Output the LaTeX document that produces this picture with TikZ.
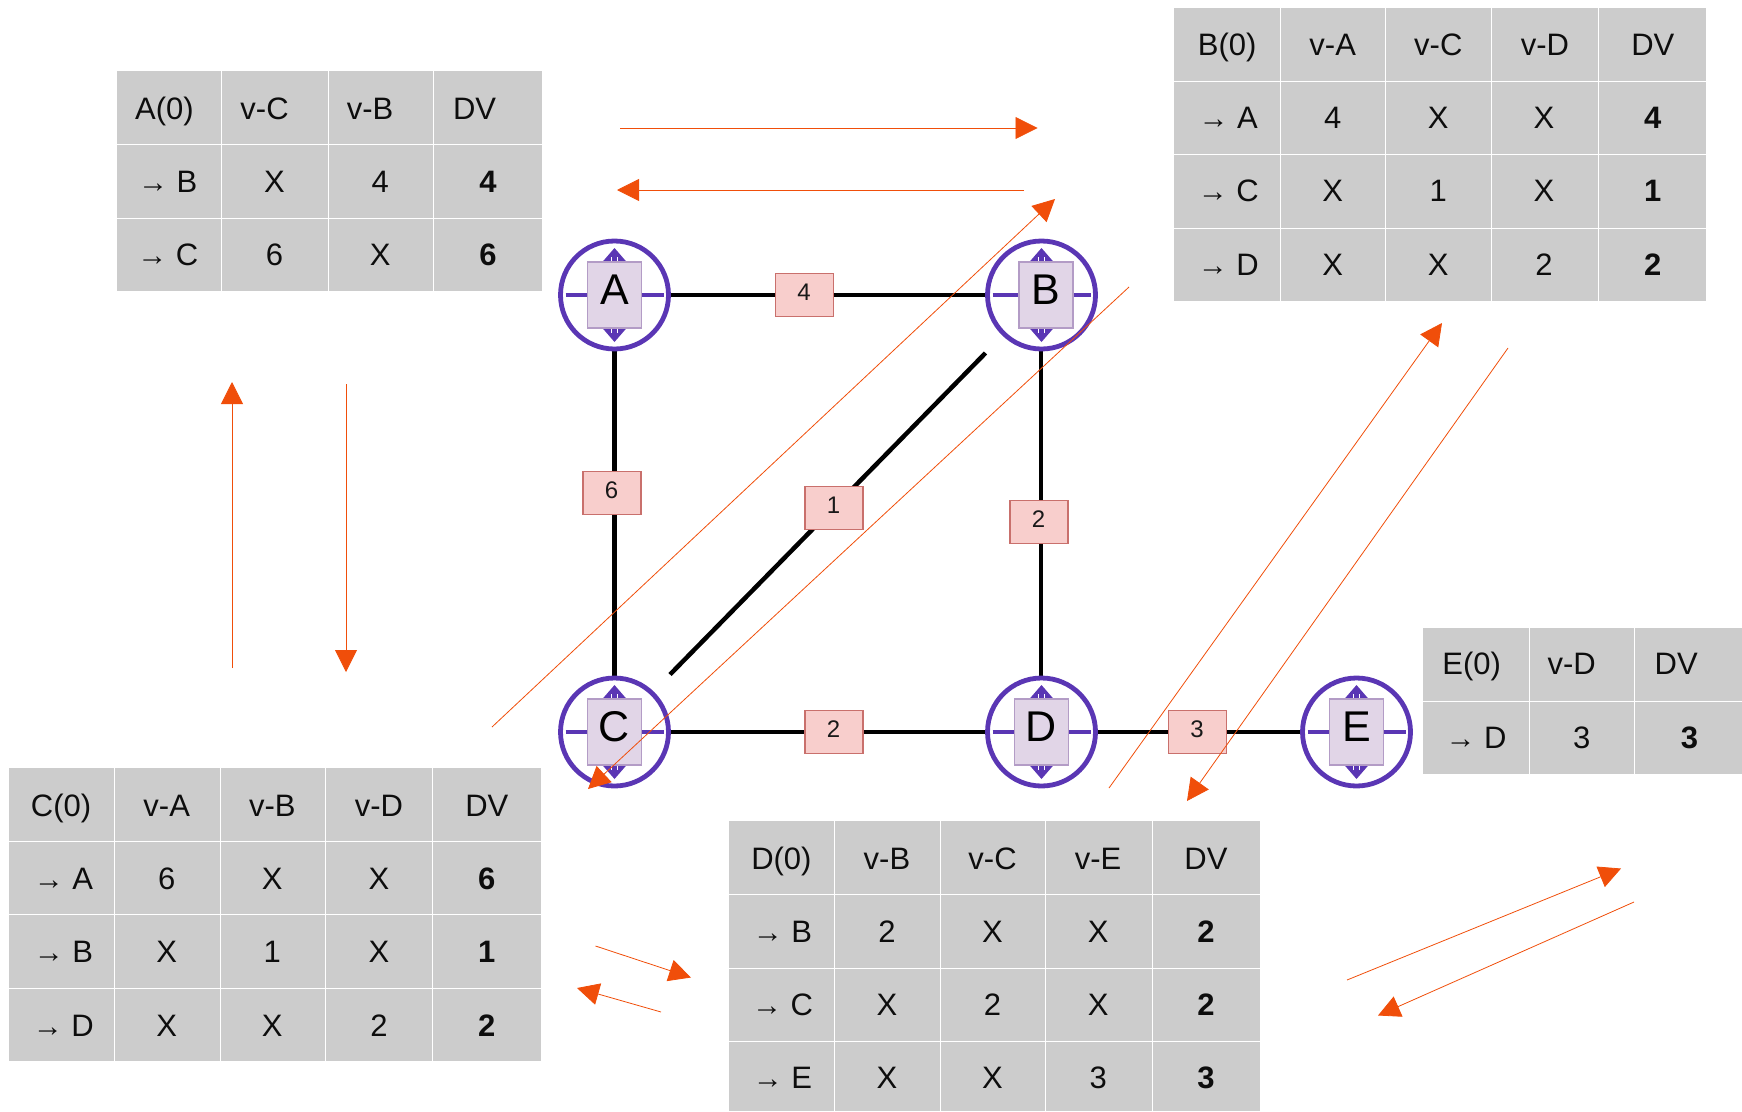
\documentclass[tikz,border=0pt]{standalone}
\usepackage{fontspec}
\setmainfont{Liberation Sans}
\usetikzlibrary{arrows.meta}
\definecolor{gcell}{HTML}{CCCCCC}
\definecolor{purp}{HTML}{5A36B4}
\definecolor{boxfill}{HTML}{E1D5E7}
\definecolor{boxline}{HTML}{B39CC6}
\definecolor{edgefill}{HTML}{F8CECC}
\definecolor{edgeline}{HTML}{C9706C}
\definecolor{org}{HTML}{F04E0A}
\newcommand{\bigtxt}{\fontsize{31}{36}\selectfont}
\newcommand{\rowarrow}{{\fontsize{30}{30}\selectfont →}\hspace{8.5pt}}
\tikzset{
  x=1pt,y=-1pt,
  celltxt/.style={inner sep=0pt,anchor=base,font=\bigtxt,text=black!95},
  boldtxt/.style={celltxt,font=\bigtxt\bfseries},
  gridline/.style={white,line width=1pt},
  netcircle/.style={circle,draw=purp,line width=4.8pt,fill=white,minimum size=108pt,inner sep=0pt},
  netbox/.style={rectangle,draw=boxline,fill=boxfill,line width=1.8pt,minimum width=54pt,minimum height=66pt,inner sep=0pt},
  nettxt/.style={inner sep=0pt,anchor=base,font=\fontsize{43}{48}\selectfont},
  edgebox/.style={rectangle,draw=edgeline,fill=edgefill,line width=1.8pt,minimum width=58pt,minimum height=43pt,inner sep=0pt},
  edgetxt/.style={inner sep=0pt,anchor=base,font=\fontsize{24}{26}\selectfont,text=black!90},
  link/.style={black,line width=4.5pt},
  flow/.style={org,line width=0.8pt,-{Triangle[length=22pt,width=22pt]}},
  slit/.style={white,line width=0.9pt},
}
\newcommand{\tabgrid}[6]{%
  \fill[gcell] (#1,#3) rectangle (#2,#4);
  \foreach \cx in {#5} {\draw[gridline] (\cx,#3) -- (\cx,#4);}
  \foreach \cy in {#6} {\draw[gridline] (#1,\cy) -- (#2,\cy);}
}
\newcommand{\tx}[4]{\node[celltxt] (#1) at ({#2*1.1115},{#3-1}) {#4};}
\newcommand{\tb}[4]{\node[boldtxt] (#1) at ({#2*1.1115},{#3-1}) {#4};}
% name, x, y, label, horizontal offset of the inner box
\newcommand{\netnode}[5]{%
  \node[netcircle] (#1) at (#2,#3) {};
  \fill[purp] (#2,#3) ++(0,-47) -- ++(-13,15) -- ++(26,0) -- cycle;
  \fill[purp] (#2,#3) ++(0,47) -- ++(-13,-15) -- ++(26,0) -- cycle;
  \draw[slit] (#2,#3) ++(-3,-38) -- ++(0,6) ++(6,-6) -- ++(0,6);
  \draw[slit] (#2,#3) ++(-3,38) -- ++(0,-6) ++(6,6) -- ++(0,-6);
  \draw[purp,line width=4.5pt] (#2,#3) ++(-49,0) -- ++(98,0);
  \node[netbox] (#1box) at ({#2+#5},#3) {};
  \node[nettxt] (#1txt) at ({#2+#5},{#3+9}) {#4};
}
\newcommand{\edgenode}[4]{%
  \node[edgebox] (#1) at (#2,#3) {};
  \node[edgetxt] (#1txt) at ({#2-0.5},{#3+5}) {#4};
}
\begin{document}
\begin{tikzpicture}
\useasboundingbox (0,0) rectangle (1742,1111);
\coordinate (A0) at (614.5,295);
\coordinate (B0) at (1041,295);
\coordinate (C0) at (614.5,732);
\coordinate (D0) at (1041,732);
\coordinate (E0) at (1356.5,732);
\coordinate (diagB) at (985.5,353);
\coordinate (diagC) at (670,674.5);
\draw[link] (A0) -- (B0);
\draw[link] (A0) -- (C0);
\draw[link] (B0) -- (D0);
\draw[link] (C0) -- (D0);
\draw[link] (D0) -- (E0);
\draw[link] (diagB) -- (diagC);
\netnode{A}{614.5}{295}{A}{0}
\netnode{B}{1041.5}{295}{B}{4.5}
\netnode{C}{614.5}{732}{C}{0}
\netnode{D}{1041.5}{732}{D}{0}
\netnode{E}{1356.5}{732}{E}{0}
\edgenode{eAB}{804.5}{295}{4}
\edgenode{eAC}{612}{493}{6}
\edgenode{eBC}{834}{508}{1}
\edgenode{eBD}{1039}{522}{2}
\edgenode{eCD}{834}{732}{2}
\edgenode{eDE}{1197.5}{732}{3}
% table A
\tabgrid{117}{542}{71}{291}{221.5,328,433.5}{144.5,218}
\tx{a00}{148}{120}{A(0)}\tx{a01}{238}{120}{v-C}\tx{a02}{333}{120}{v-B}\tx{a03}{427}{120}{DV}
\tx{a10}{151}{193}{\rowarrow B}\tx{a11}{247}{193}{X}\tx{a12}{342}{193}{4}\tb{a13}{439}{193}{4}
\tx{a20}{151}{266}{\rowarrow C}\tx{a21}{247}{266}{6}\tx{a22}{342}{266}{X}\tb{a23}{439}{266}{6}
% table B
\tabgrid{1174}{1706}{8}{301}{1280,1385.5,1491,1598}{81,154.5,228}
\tx{b00}{1104}{56}{B(0)}\tx{b01}{1199}{56}{v-A}\tx{b02}{1294}{56}{v-C}\tx{b03}{1390}{56}{v-D}\tx{b04}{1487}{56}{DV}
\tx{b10}{1105}{129}{\rowarrow A}\tx{b11}{1199}{129}{4}\tx{b12}{1294}{129}{X}\tx{b13}{1389}{129}{X}\tb{b14}{1487}{129}{4}
\tx{b20}{1105}{202}{\rowarrow C}\tx{b21}{1199}{202}{X}\tx{b22}{1294}{202}{1}\tx{b23}{1389}{202}{X}\tb{b24}{1487}{202}{1}
\tx{b30}{1105}{276}{\rowarrow D}\tx{b31}{1199}{276}{X}\tx{b32}{1294}{276}{X}\tx{b33}{1389}{276}{2}\tb{b34}{1487}{276}{2}
% table C
\tabgrid{9}{541}{768}{1061}{114.5,220,325.5,432}{841,914.5,988}
\tx{c00}{55}{817}{C(0)}\tx{c01}{150}{817}{v-A}\tx{c02}{245}{817}{v-B}\tx{c03}{341}{817}{v-D}\tx{c04}{438}{817}{DV}
\tx{c10}{57}{890}{\rowarrow A}\tx{c11}{150}{890}{6}\tx{c12}{245}{890}{X}\tx{c13}{341}{890}{X}\tb{c14}{438}{890}{6}
\tx{c20}{57}{963}{\rowarrow B}\tx{c21}{150}{963}{X}\tx{c22}{245}{963}{1}\tx{c23}{341}{963}{X}\tb{c24}{438}{963}{1}
\tx{c30}{57}{1037}{\rowarrow D}\tx{c31}{150}{1037}{X}\tx{c32}{245}{1037}{X}\tx{c33}{341}{1037}{2}\tb{c34}{438}{1037}{2}
% table D
\tabgrid{729}{1260}{821}{1111}{834,940,1045.5,1152}{894,968,1041}
\tx{d00}{703}{870}{D(0)}\tx{d01}{798}{870}{v-B}\tx{d02}{893}{870}{v-C}\tx{d03}{988}{870}{v-E}\tx{d04}{1085}{870}{DV}
\tx{d10}{704}{943}{\rowarrow B}\tx{d11}{798}{943}{2}\tx{d12}{893}{943}{X}\tx{d13}{988}{943}{X}\tb{d14}{1085}{943}{2}
\tx{d20}{704}{1016}{\rowarrow C}\tx{d21}{798}{1016}{X}\tx{d22}{893}{1016}{2}\tx{d23}{988}{1016}{X}\tb{d24}{1085}{1016}{2}
\tx{d30}{704}{1089}{\rowarrow E}\tx{d31}{798}{1089}{X}\tx{d32}{893}{1089}{X}\tx{d33}{988}{1089}{3}\tb{d34}{1085}{1089}{3}
% table E
\tabgrid{1423}{1742}{628}{774}{1529,1634}{701}
\tx{e00}{1324}{675}{E(0)}\tx{e01}{1414}{675}{v-D}\tx{e02}{1508}{675}{DV}
\tx{e10}{1328}{749}{\rowarrow D}\tx{e11}{1423}{749}{3}\tb{e12}{1520}{749}{3}
% message arrows
\coordinate (f1a) at (620,128);   \coordinate (f1b) at (1037.5,128);
\coordinate (f2a) at (1024,190);  \coordinate (f2b) at (617,190);
\coordinate (f3a) at (492,727);   \coordinate (f3b) at (1055,199);
\coordinate (f4a) at (1129,287);  \coordinate (f4b) at (588,789);
\coordinate (f5a) at (1109,788);  \coordinate (f5b) at (1442,323);
\coordinate (f6a) at (1508,348);  \coordinate (f6b) at (1187,801);
\coordinate (f7a) at (232,668);   \coordinate (f7b) at (232,382);
\coordinate (f8a) at (346,384);   \coordinate (f8b) at (346,672);
\coordinate (f9a) at (595.5,946); \coordinate (f9b) at (691,977.5);
\coordinate (f10a) at (661,1012); \coordinate (f10b) at (577,988);
\coordinate (f11a) at (1347,980); \coordinate (f11b) at (1621,868.5);
\coordinate (f12a) at (1634,902); \coordinate (f12b) at (1378,1015.5);
\foreach \k in {1,...,12} {\draw[flow] (f\k a) -- (f\k b);}
\end{tikzpicture}
\end{document}
